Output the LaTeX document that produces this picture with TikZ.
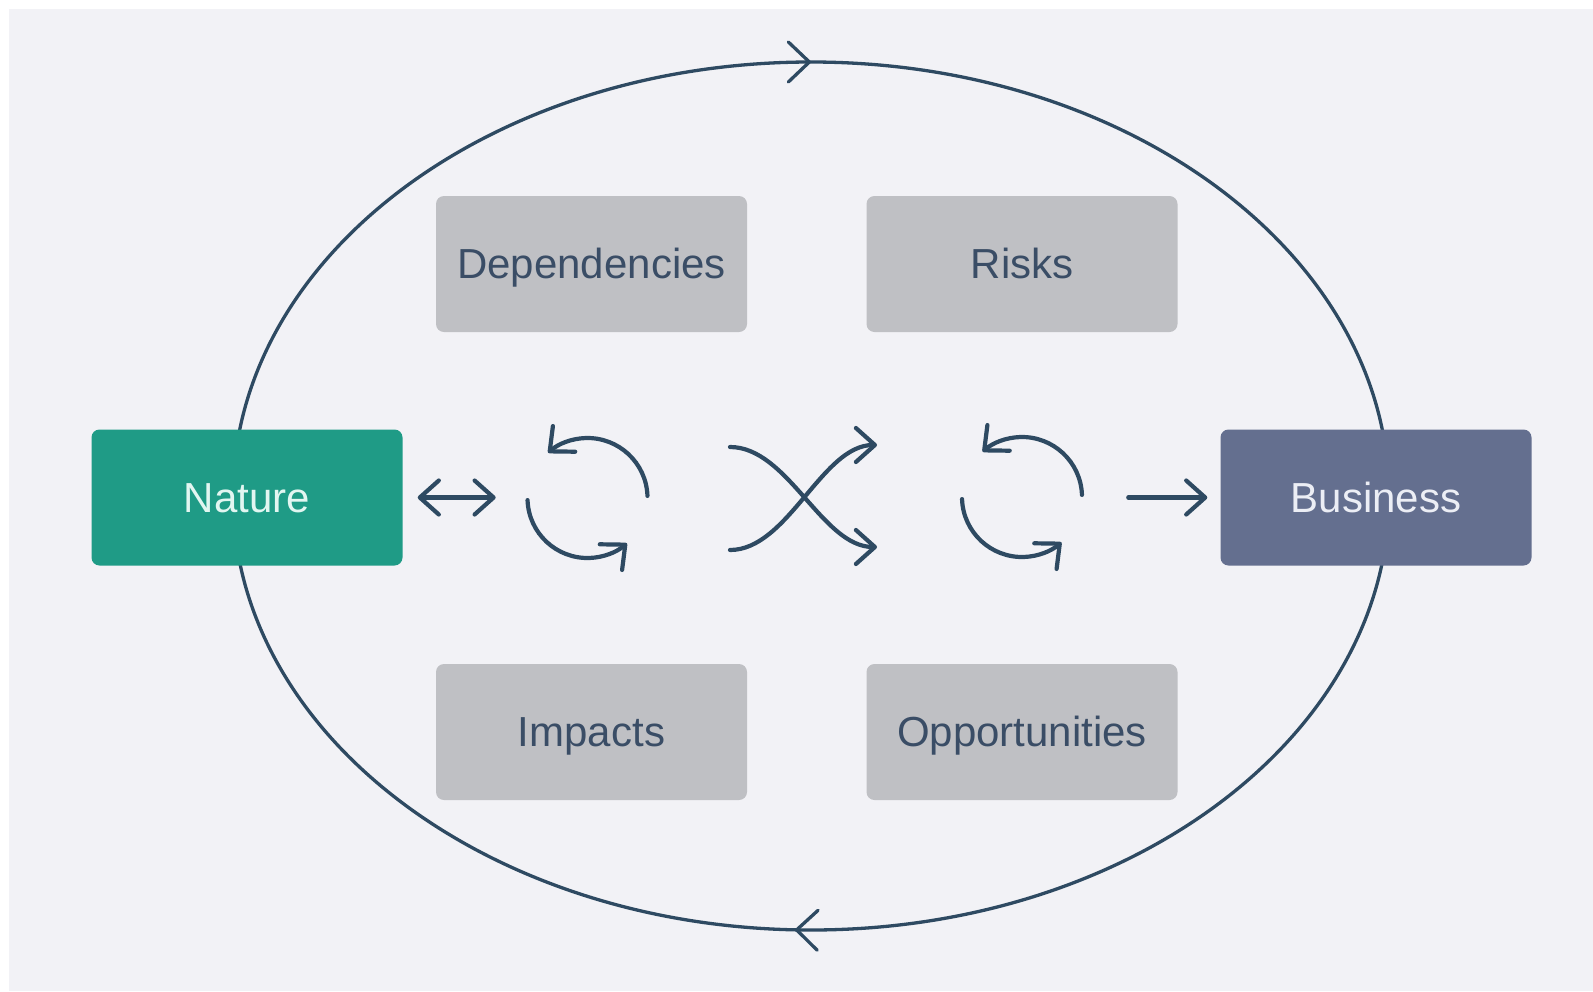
\documentclass[tikz,border=0pt]{standalone}
\usepackage{fontspec}
\setmainfont{Liberation Sans}
\usetikzlibrary{arrows.meta,decorations.markings}

\definecolor{panel}{HTML}{F2F2F6}
\definecolor{ink}{HTML}{2E4A62}
\definecolor{boxgray}{HTML}{BFC0C4}
\definecolor{labelink}{HTML}{3A4D66}
\definecolor{naturefill}{HTML}{1F9B86}
\definecolor{naturetext}{HTML}{E2F6F1}
\definecolor{businessfill}{HTML}{646F8F}
\definecolor{businesstext}{HTML}{ECEEF5}

\tikzset{
  card/.style={rounded corners=8pt, minimum width=311pt, minimum height=136pt,
    inner sep=0pt, align=center, text height=29.5pt, text depth=0pt,
    font=\fontsize{42}{50}\selectfont},
  topic/.style={card, fill=boxgray, text=labelink},
  icon/.style={draw=ink, line width=4.2pt, line cap=round},
}

\begin{document}
\begin{tikzpicture}[x=1pt,y=1pt,
  >={Straight Barb[length=19pt,width=34pt,round]}]
  % page and panel
  \useasboundingbox (0,0) rectangle (1593,-991);
  \fill[white] (0,0) rectangle (1593,-991);
  \fill[panel] (9,-9) rectangle (1593,-991);

  % clockwise cycle around everything
  \draw[ink, line width=3.3pt, postaction={decorate},
    decoration={markings,
      mark=at position 0.25 with {\arrowreversed{Straight Barb[length=21pt,width=40pt,round]}},
      mark=at position 0.745 with {\arrowreversed{Straight Barb[length=21pt,width=40pt,round]}}}]
    (811,-496) ellipse [x radius=578, y radius=434];

  % end points
  \node[card, fill=naturefill, text=naturetext] (nature) at (247,-497.5) {Nature};
  \node[card, fill=businessfill, text=businesstext] (business) at (1376,-497.5) {Business};

  % four topics
  \node[topic] (dep)  at (591.5,-264) {Dependencies};
  \node[topic] (risk) at (1022,-264)  {Risks};
  \node[topic] (imp)  at (591.5,-732) {Impacts};
  \node[topic] (opp)  at (1022,-732)  {Opportunities};

  % exchange with nature
  \draw[icon,<->] ([xshift=15pt]nature.east) -- ++(78,0);

  % left cycle
  \coordinate (cycL) at (587.5,-498);
  \draw[icon,->] ([shift={(2:60)}]cycL) arc[start angle=2, end angle=131, radius=60];
  \draw[icon,->] ([shift={(182:60)}]cycL) arc[start angle=182, end angle=311, radius=60];

  % crossing paths
  \coordinate (crA0) at (730,-447);
  \coordinate (crA1) at (877,-547);
  \coordinate (crB0) at (730,-550);
  \coordinate (crB1) at (877,-445);
  \draw[icon,->] (crA0) .. controls (788,-447) and (822,-547) .. (crA1);
  \draw[icon,->] (crB0) .. controls (788,-550) and (822,-445) .. (crB1);

  % right cycle
  \coordinate (cycR) at (1022,-497);
  \draw[icon,->] ([shift={(2:60)}]cycR) arc[start angle=2, end angle=131, radius=60];
  \draw[icon,->] ([shift={(182:60)}]cycR) arc[start angle=182, end angle=311, radius=60];

  % into business
  \draw[icon,->] ([xshift=-92pt]business.west) -- ([xshift=-13pt]business.west);
\end{tikzpicture}
\end{document}
